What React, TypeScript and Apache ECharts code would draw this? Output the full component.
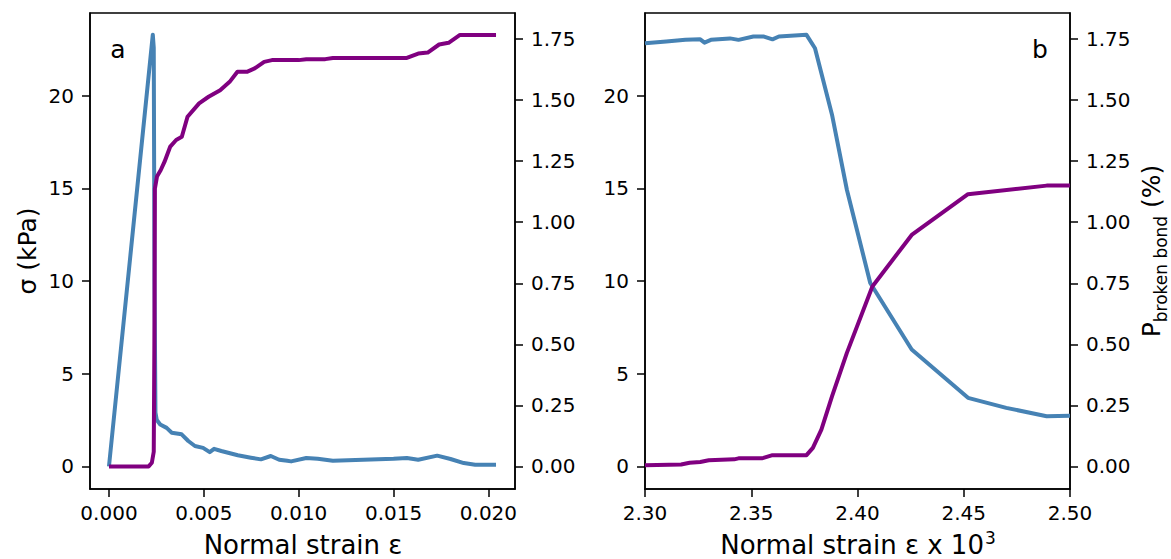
import React, { useEffect, useRef } from "react";
import * as echarts from "echarts";

const FONT = "DejaVu Sans";
const BLUE = "#4682b4";
const PURPLE = "#800080";

// ---- Panel a: full strain range ----
const strainAStress = [0, 0.00231, 0.00236, 0.0024, 0.00245, 0.00252, 0.0027, 0.00304, 0.00331, 0.00383, 0.00418, 0.00453, 0.00496, 0.00531, 0.00554, 0.00592, 0.00679, 0.00748, 0.00801, 0.00853, 0.00897, 0.0094, 0.0096, 0.0104, 0.011, 0.0118, 0.0134, 0.015, 0.0157, 0.0163, 0.0173, 0.018, 0.0187, 0.0193, 0.0204];
const stressA = [0, 23.3, 22.6, 10.0, 2.9, 2.5, 2.26, 2.08, 1.82, 1.73, 1.37, 1.1, 1.0, 0.77, 0.95, 0.83, 0.6, 0.47, 0.38, 0.56, 0.36, 0.3, 0.27, 0.45, 0.41, 0.31, 0.36, 0.41, 0.45, 0.36, 0.58, 0.4, 0.18, 0.09, 0.09];

const strainABroken = [0, 0.00209, 0.00226, 0.00236, 0.0024, 0.00242, 0.00253, 0.00273, 0.00293, 0.00323, 0.00354, 0.00384, 0.00414, 0.00475, 0.00525, 0.00586, 0.00636, 0.00677, 0.00727, 0.00768, 0.00818, 0.00859, 0.01, 0.0104, 0.0114, 0.0118, 0.0157, 0.0163, 0.0168, 0.0174, 0.0179, 0.0185, 0.0204];
const brokenA = [0, 0, 0.015, 0.06, 0.6, 1.138, 1.187, 1.214, 1.248, 1.31, 1.337, 1.35, 1.432, 1.487, 1.514, 1.541, 1.575, 1.616, 1.616, 1.63, 1.657, 1.664, 1.664, 1.668, 1.668, 1.673, 1.673, 1.691, 1.695, 1.728, 1.735, 1.767, 1.767];

// ---- Panel b: strain x 10^3, zoom on failure ----
const strainBStress = [2.3, 2.31, 2.319, 2.326, 2.328, 2.331, 2.34, 2.344, 2.351, 2.356, 2.36, 2.363, 2.376, 2.38, 2.388, 2.395, 2.406, 2.4255, 2.452, 2.47, 2.489, 2.5];
const stressB = [22.84, 22.93, 23.02, 23.05, 22.87, 23.02, 23.1, 23.02, 23.2, 23.2, 23.05, 23.2, 23.29, 22.57, 18.98, 14.93, 9.9, 6.31, 3.7, 3.16, 2.71, 2.74];

const strainBBroken = [2.3, 2.317, 2.321, 2.326, 2.33, 2.333, 2.342, 2.344, 2.355, 2.36, 2.376, 2.379, 2.383, 2.388, 2.395, 2.407, 2.4255, 2.452, 2.489, 2.5];
const brokenB = [0.005, 0.008, 0.015, 0.018, 0.025, 0.026, 0.029, 0.033, 0.033, 0.046, 0.046, 0.076, 0.151, 0.287, 0.465, 0.737, 0.948, 1.115, 1.15, 1.15];

// ---- Tick labels ----
const stressTicks = [0, 5, 10, 15, 20];
const brokenTicks = [0, 0.25, 0.5, 0.75, 1.0, 1.25, 1.5, 1.75];
const strainTicksA = [0, 0.005, 0.01, 0.015, 0.02];
const strainTicksB = [2.3, 2.35, 2.4, 2.45, 2.5];

const pairs = (xs: number[], ys: number[]) => xs.map((x, i) => [x, ys[i]]);

const lineStyle = { color: "#000", width: 1.5 };
const labelBase = { fontSize: 20, color: "#000", fontFamily: FONT };

function makeAxis(gridIndex: number, min: number, max: number, ticks: number[], digits: number, position: string, isX: boolean) {
  return {
    type: "value",
    gridIndex,
    min,
    max,
    position,
    axisLine: { show: true, onZero: false, lineStyle },
    splitLine: { show: false },
    axisTick: { show: true, length: 8, inside: false, customValues: ticks, lineStyle },
    axisLabel: {
      ...labelBase,
      customValues: ticks,
      margin: isX ? 14 : 16,
      formatter: (v: number) => v.toFixed(digits),
    },
  };
}

function measure(text: string, size: number) {
  const ctx = document.createElement("canvas").getContext("2d");
  if (!ctx) return text.length * size * 0.55;
  ctx.font = `${size}px "${FONT}"`;
  return ctx.measureText(text).width;
}

export default function App() {
  const ref = useRef<HTMLDivElement>(null);
  useEffect(() => {
    const chart = echarts.init(ref.current!, null, { renderer: "svg" });
    const grids = [
      { left: 90, top: 13, width: 425, height: 476 },
      { left: 645, top: 13, width: 425, height: 476 },
    ].map((g) => ({ ...g, show: true, borderColor: "#000", borderWidth: 1.5, backgroundColor: "transparent", containLabel: false }));

    const titleStyle = { fontSize: 26, fontFamily: FONT, fill: "#000" };
    const mid = { align: "center", verticalAlign: "middle", textAlign: "center", textVerticalAlign: "middle" };

    const mainB = "Normal strain ε x 10";
    const supB = "3";
    const wMain = measure(mainB, 26);
    const wSup = measure(supB, 17);
    const x0 = 857.5 - (wMain + wSup) / 2;

    const lw = 4;

    chart.setOption({
      animation: false,
      backgroundColor: "#fff",
      grid: grids,
      xAxis: [
        makeAxis(0, -0.001, 0.0214, strainTicksA, 3, "bottom", true),
        makeAxis(1, 2.3, 2.5, strainTicksB, 2, "bottom", true),
      ],
      yAxis: [
        makeAxis(0, -1.22, 24.47, stressTicks, 0, "left", false),
        makeAxis(0, -0.0925, 1.857, brokenTicks, 2, "right", false),
        makeAxis(1, -1.22, 24.47, stressTicks, 0, "left", false),
        makeAxis(1, -0.0925, 1.857, brokenTicks, 2, "right", false),
      ],
      series: [
        { type: "line", xAxisIndex: 0, yAxisIndex: 0, data: pairs(strainAStress, stressA), symbol: "none", clip: true, lineStyle: { color: BLUE, width: lw, join: "round" }, itemStyle: { color: BLUE } },
        { type: "line", xAxisIndex: 0, yAxisIndex: 1, data: pairs(strainABroken, brokenA), symbol: "none", clip: true, lineStyle: { color: PURPLE, width: lw, join: "round" }, itemStyle: { color: PURPLE } },
        { type: "line", xAxisIndex: 1, yAxisIndex: 2, data: pairs(strainBStress, stressB), symbol: "none", clip: true, lineStyle: { color: BLUE, width: lw, join: "round" }, itemStyle: { color: BLUE } },
        { type: "line", xAxisIndex: 1, yAxisIndex: 3, data: pairs(strainBBroken, brokenB), symbol: "none", clip: true, lineStyle: { color: PURPLE, width: lw, join: "round" }, itemStyle: { color: PURPLE } },
      ],
      graphic: [
        { type: "text", x: 118, y: 49, style: { ...titleStyle, fontSize: 25, text: "a", ...mid } },
        { type: "text", x: 1040, y: 49, style: { ...titleStyle, fontSize: 25, text: "b", ...mid } },
        { type: "text", x: 303, y: 545, style: { ...titleStyle, text: "Normal strain ε", ...mid } },
        { type: "text", x: x0, y: 545, style: { ...titleStyle, text: mainB, align: "left", textAlign: "left", verticalAlign: "middle", textVerticalAlign: "middle" } },
        { type: "text", x: x0 + wMain + 1, y: 538, style: { ...titleStyle, fontSize: 17, text: supB, align: "left", textAlign: "left", verticalAlign: "middle", textVerticalAlign: "middle" } },
        { type: "text", x: 27, y: 251, rotation: Math.PI / 2, style: { ...titleStyle, fontSize: 25, text: "σ (kPa)", ...mid } },
        {
          type: "text", x: 1154, y: 251, rotation: Math.PI / 2,
          style: {
            text: "{p|P}{s|broken bond}{p| (%)}",
            ...mid,
            rich: {
              p: { fontSize: 25, fontFamily: FONT, fill: "#000", color: "#000", verticalAlign: "bottom", padding: [0, 0, 5, 0] },
              s: { fontSize: 17, fontFamily: FONT, fill: "#000", color: "#000", verticalAlign: "bottom" },
            },
          },
        },
      ],
    });
    return () => chart.dispose();
  }, []);
  return <div ref={ref} style={{ position: "fixed", left: 0, top: 0, width: 1171, height: 559 }} />;
}
